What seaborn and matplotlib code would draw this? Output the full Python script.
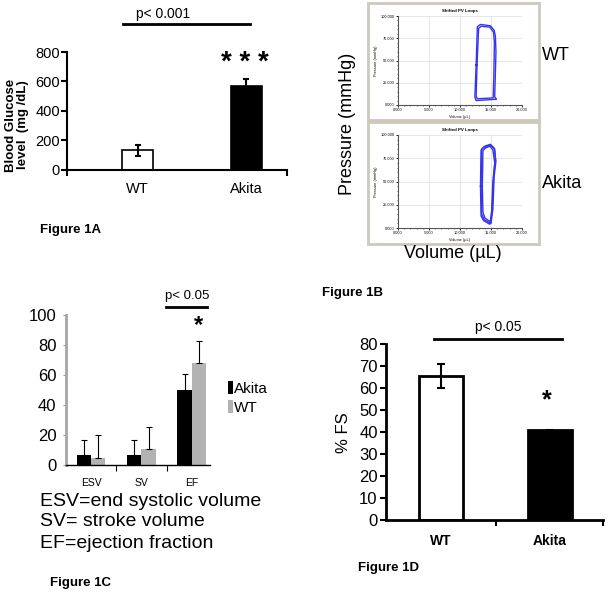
import numpy as np
import pandas as pd
import matplotlib
matplotlib.use("Agg")
import matplotlib.pyplot as plt
from matplotlib.patches import Rectangle
from matplotlib.lines import Line2D
import seaborn as sns

# ---- data ----
# Figure 1A: blood glucose (mg/dL)
glucose_groups = ["WT", "Akita"]
glucose_mean = [135, 570]
glucose_sd = [37, 45]

# Figure 1B: PV loops (volume in uL x1000, pressure mmHg)
wt_loop_a_vol = [12.6, 12.8, 13.3, 14.9, 15.5, 15.7, 15.8, 15.6, 15.9, 12.6, 12.4, 12.6]
wt_loop_a_p = [45, 88, 90.5, 89, 84, 78, 60, 9, 6.5, 5, 9, 45]
wt_loop_b_vol = [12.75, 13.0, 13.4, 14.8, 15.4, 15.55, 15.45, 15.35, 12.8, 12.6, 12.75]
wt_loop_b_p = [45, 86, 88.5, 87.5, 82, 70, 30, 8, 7, 10, 45]
akita_loop_a_vol = [13.4, 13.5, 14.0, 14.9, 15.5, 15.8, 15.5, 15.3, 15.0, 14.7, 13.9, 13.5, 13.4]
akita_loop_a_p = [45, 85, 88, 90, 86, 72, 55, 20, 5, 6, 9, 15, 45]
akita_loop_b_vol = [13.6, 13.7, 14.1, 14.8, 15.3, 15.6, 15.3, 15.1, 14.9, 14.6, 14.0, 13.7, 13.6]
akita_loop_b_p = [45, 83, 86, 88, 84, 70, 50, 18, 7, 8, 11, 17, 45]
akita_loop_c_vol = [13.3, 13.4, 13.9, 14.9, 15.6, 15.7, 15.4, 15.2, 14.95, 14.8, 13.8, 13.4, 13.3]
akita_loop_c_p = [45, 84, 87, 89, 85, 75, 52, 22, 6, 4, 8, 13, 45]

# Figure 1C: PV parameters
pv_params = ["ESV", "SV", "EF"]
akita_pv = [7, 7, 50]
akita_pv_err = [10, 10, 11]
wt_pv = [5, 10.5, 68]
wt_pv_err = [15, 15, 15]

# Figure 1D: fractional shortening
fs_groups = ["WT", "Akita"]
fs_mean = [65.5, 40.7]
fs_sd = [5.3, 0.4]

W, H = 608, 594
plt.rcParams["font.family"] = ["Liberation Sans", "DejaVu Sans"]
fig = plt.figure(figsize=(W / 100, H / 100), dpi=100)


def rect(x0, y0, x1, y1):
    return [x0 / W, 1 - y1 / H, (x1 - x0) / W, (y1 - y0) / H]


def ftext(x, y, s, **kw):
    fig.text(x / W, 1 - y / H, s, **kw)


def fline(x0, x1, y, lw=2):
    fig.add_artist(Line2D([x0 / W, x1 / W], [1 - y / H, 1 - y / H],
                          color="black", lw=lw, transform=fig.transFigure))


def style_axes(ax, lw=1.5):
    sns.despine(ax=ax)
    for s in ["left", "bottom"]:
        ax.spines[s].set_linewidth(lw)
    ax.set_xlabel("")
    ax.set_ylabel("")


# ---- Figure 1A ----
axA = fig.add_axes(rect(67, 52, 287, 170))
sns.barplot(x=glucose_groups, y=glucose_mean, hue=glucose_groups,
            palette=["white", "black"], edgecolor="black", linewidth=1.2,
            width=0.285, legend=False, ax=axA)
axA.errorbar(range(2), glucose_mean, yerr=glucose_sd, fmt="none",
             ecolor="black", elinewidth=1.5, capsize=2.5, capthick=1.5)
axA.set_ylim(0, 800)
axA.set_xlim(-0.647, 1.372)
axA.set_yticks(range(0, 801, 200))
axA.tick_params(axis="y", labelsize=10.5, length=4, width=1.5, pad=1)
axA.tick_params(axis="x", which="major", length=0, labelsize=10.5, pad=9)
axA.set_xticks([-0.647, 1.372], minor=True)
axA.tick_params(axis="x", which="minor", length=4, width=1.5)
style_axes(axA)
ftext(17, 125, "Blood Glucose\nlevel  (mg /dL)", rotation=90, ha="center",
      va="center", fontsize=9.5, fontweight="bold", linespacing=1.05)
fline(123, 250, 24)
ftext(163, 14, "p< 0.001", ha="center", va="center", fontsize=10)
ftext(245, 63, "* * *", ha="center", va="center", fontsize=20, fontweight="bold")
ftext(40, 230, "Figure 1A", ha="left", va="center", fontsize=9.5, fontweight="bold")

# ---- Figure 1B ----
blue = "#3434ee"
loops = [
    ((368, 3, 539, 120), (398, 16, 522, 105),
     [(wt_loop_a_vol, wt_loop_a_p), (wt_loop_b_vol, wt_loop_b_p)]),
    ((368, 122, 539, 244), (398, 135, 522, 228),
     [(akita_loop_a_vol, akita_loop_a_p), (akita_loop_b_vol, akita_loop_b_p),
      (akita_loop_c_vol, akita_loop_c_p)]),
]
for outer, inner, curves in loops:
    x0, y0, x1, y1 = outer
    fig.add_artist(Rectangle((x0 / W, 1 - y1 / H), (x1 - x0) / W, (y1 - y0) / H,
                             transform=fig.transFigure, facecolor="white",
                             edgecolor="#cdc9bc", lw=2, zorder=-1))
    ax = fig.add_axes(rect(*inner))
    ax.patch.set_alpha(0)
    rows = []
    for k, (v, p) in enumerate(curves):
        rows.append(pd.DataFrame({"vol": v, "p": p, "loop": k}))
    df = pd.concat(rows)
    sns.lineplot(data=df, x="vol", y="p", units="loop", estimator=None,
                 sort=False, color=blue, lw=1.0, ax=ax)
    ax.set_xlim(0, 20)
    ax.set_ylim(0, 100)
    ax.set_xticks([0, 5, 10, 15, 20])
    ax.set_xticklabels(["0.000", "5.000", "10.000", "15.000", "20.000"])
    ax.set_yticks([0, 25, 50, 75, 100])
    ax.set_yticklabels(["0.000", "25.000", "50.000", "75.000", "100.000"])
    ax.set_xticks(np.arange(0, 20.1, 1), minor=True)
    ax.set_yticks(np.arange(0, 100.1, 5), minor=True)
    ax.grid(True, which="major", color="#e2e2e2", lw=0.6)
    ax.tick_params(labelsize=2.8, length=1.5, width=0.6, pad=1)
    ax.tick_params(which="minor", length=1, width=0.4)
    for s in ["top", "right"]:
        ax.spines[s].set_visible(False)
    for s in ["left", "bottom"]:
        ax.spines[s].set_linewidth(0.8)
        ax.spines[s].set_color("#555555")
    ax.set_title("Shifted PV Loops", fontsize=3.2, fontweight="bold", pad=3)
    ax.set_xlabel("Volume (µL)", fontsize=2.8, labelpad=1.5)
    ax.set_ylabel("Pressure (mmHg)", fontsize=2.8, labelpad=2)

ftext(542, 55, "WT", ha="left", va="center", fontsize=13)
ftext(542, 183, "Akita", ha="left", va="center", fontsize=13)
ftext(347, 124, "Pressure (mmHg)", rotation=90, ha="center", va="center", fontsize=13)
ftext(453, 253, "Volume (µL)", ha="center", va="center", fontsize=13)
ftext(322, 293, "Figure 1B", ha="left", va="center", fontsize=9.5, fontweight="bold")

# ---- Figure 1C ----
axC = fig.add_axes(rect(66, 315, 210, 465))
dfC = pd.DataFrame({"param": pv_params * 2,
                    "group": ["Akita"] * 3 + ["WT"] * 3,
                    "val": akita_pv + wt_pv})
sns.barplot(data=dfC, x="param", y="val", hue="group",
            palette={"Akita": "black", "WT": "#b3b3b3"}, width=0.57,
            linewidth=0, ax=axC)
for cont, errs in zip(axC.containers, [akita_pv_err, wt_pv_err]):
    for bar, e in zip(cont, errs):
        xc = bar.get_x() + bar.get_width() / 2
        axC.errorbar(xc, bar.get_height(), yerr=[[0], [e]], fmt="none",
                     ecolor="black", elinewidth=0.8, capsize=2, capthick=0.8)
axC.set_ylim(0, 100)
axC.set_xlim(-0.495, 2.36)
axC.set_yticks(range(0, 101, 20))
axC.tick_params(axis="y", labelsize=12, length=2, width=0.8, color="#999999", pad=5)
axC.tick_params(axis="x", which="major", length=0, labelsize=7.5, pad=9)
axC.set_xticks([0.5, 1.5], minor=True)
axC.tick_params(axis="x", which="minor", length=4, width=0.8)
style_axes(axC)
axC.spines["left"].set_color("#a6a6a6")
axC.spines["left"].set_linewidth(2)
axC.spines["bottom"].set_linewidth(1)
sns.move_legend(axC, "center left", bbox_to_anchor=(228 / W, 1 - 398 / H),
                bbox_transform=fig.transFigure, frameon=False, title=None,
                fontsize=11, handlelength=0.3, handleheight=0.9,
                handletextpad=0.1, labelspacing=0.25, borderpad=0,
                borderaxespad=0)
fline(166, 207, 307)
ftext(187, 296, "p< 0.05", ha="center", va="center", fontsize=9.5)
ftext(199, 326, "*", ha="center", va="center", fontsize=17, fontweight="bold")
ftext(40, 502, "ESV=end systolic volume", ha="left", va="center", fontsize=14)
ftext(40, 522, "SV= stroke volume", ha="left", va="center", fontsize=14)
ftext(40, 543, "EF=ejection fraction", ha="left", va="center", fontsize=14)
ftext(50, 583, "Figure 1C", ha="left", va="center", fontsize=9.5, fontweight="bold")

# ---- Figure 1D ----
axD = fig.add_axes(rect(386, 344, 603, 520))
sns.barplot(x=fs_groups, y=fs_mean, hue=fs_groups, palette=["white", "black"],
            edgecolor="black", linewidth=2, width=0.41, legend=False, ax=axD)
axD.errorbar(range(2), fs_mean, yerr=fs_sd, fmt="none", ecolor="black",
             elinewidth=1.5, capsize=3, capthick=1.5)
axD.set_ylim(0, 80)
axD.set_xlim(-0.505, 1.486)
axD.set_yticks(range(0, 81, 10))
axD.tick_params(axis="y", labelsize=12, length=4, width=1.5, pad=2)
axD.tick_params(axis="x", which="major", length=0, labelsize=10, pad=10)
for lab in axD.get_xticklabels():
    lab.set_fontweight("bold")
axD.set_xticks([0.5, 1.486], minor=True)
axD.tick_params(axis="x", which="minor", length=4, width=1.5)
style_axes(axD, lw=2)
ftext(343, 433, "% FS", rotation=90, ha="center", va="center", fontsize=12)
fline(434, 562, 339)
ftext(498, 327, "p< 0.05", ha="center", va="center", fontsize=10)
ftext(547, 400, "*", ha="center", va="center", fontsize=18, fontweight="bold")
ftext(358, 568, "Figure 1D", ha="left", va="center", fontsize=9.5, fontweight="bold")

fig.savefig("out.png", dpi=100)
